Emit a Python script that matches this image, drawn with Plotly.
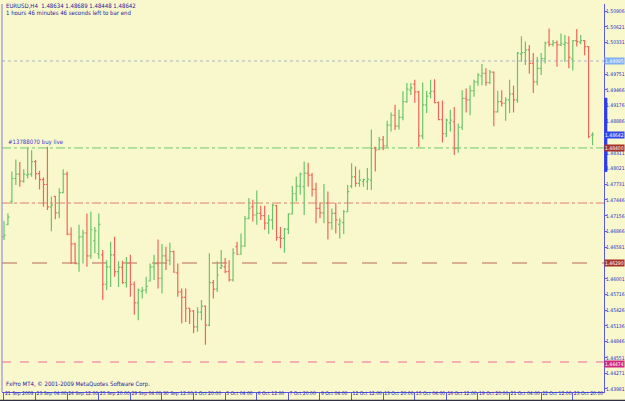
import plotly.graph_objects as go

opens = [1.4677,1.4700,1.4742,1.4784,1.4792,1.4779,1.4790,1.4792,1.4815,1.4793,
         1.4782,1.4773,1.4732,1.4751,1.4721,1.4758,1.4792,1.4682,1.4664,1.4628,
         1.4677,1.4684,1.4642,1.4670,1.4646,1.4644,1.4590,1.4622,1.4644,1.4613,
         1.4621,1.4593,1.4629,1.4590,1.4556,1.4577,1.4579,1.4596,1.4622,1.4628,
         1.4601,1.4642,1.4634,1.4650,1.4611,1.4576,1.4566,1.4546,1.4541,1.4512,
         1.4539,1.4550,1.4515,1.4593,1.4581,1.4620,1.4622,1.4613,1.4598,1.4659,
         1.4645,1.4660,1.4711,1.4732,1.4717,1.4720,1.4716,1.4702,1.4708,1.4734,
         1.4676,1.4674,1.4691,1.4719,1.4756,1.4770,1.4769,1.4794,1.4790,1.4764,
         1.4729,1.4721,1.4739,1.4703,1.4720,1.4700,1.4703,1.4723,1.4770,1.4787,
         1.4775,1.4778,1.4778,1.4781,1.4840,1.4838,1.4855,1.4844,1.4882,1.4900,
         1.4880,1.4896,1.4925,1.4946,1.4957,1.4943,1.4862,1.4919,1.4940,1.4944,
         1.4923,1.4892,1.4866,1.4886,1.4888,1.4839,1.4878,1.4931,1.4928,1.4945,
         1.4961,1.4972,1.4977,1.4960,1.4979,1.4906,1.4925,1.4922,1.4928,1.4939,
         1.4928,1.5012,1.5015,1.5020,1.4995,1.4961,1.4986,1.5004,1.5034,1.5030,
         1.5033,1.5029,1.5030,1.5032,1.5003,1.5037,1.5034,1.5037,1.5026,1.48634]
highs = [1.4706,1.4720,1.4797,1.4819,1.4814,1.4801,1.4841,1.4836,1.4818,1.4798,
         1.4786,1.4842,1.4751,1.4752,1.4766,1.4801,1.4797,1.4694,1.4666,1.4699,
         1.4690,1.4720,1.4723,1.4695,1.4720,1.4653,1.4634,1.4668,1.4677,1.4632,
         1.4633,1.4640,1.4644,1.4595,1.4582,1.4585,1.4604,1.4628,1.4644,1.4672,
         1.4664,1.4659,1.4666,1.4652,1.4628,1.4582,1.4582,1.4547,1.4543,1.4548,
         1.4561,1.4551,1.4647,1.4598,1.4632,1.4653,1.4638,1.4634,1.4656,1.4668,
         1.4683,1.4715,1.4748,1.4745,1.4762,1.4734,1.4734,1.4717,1.4737,1.4736,
         1.4695,1.4693,1.4720,1.4770,1.4787,1.4795,1.4815,1.4813,1.4794,1.4776,
         1.4740,1.4774,1.4760,1.4729,1.4739,1.4711,1.4726,1.4772,1.4812,1.4806,
         1.4800,1.4784,1.4803,1.4874,1.4842,1.4860,1.4862,1.4890,1.4905,1.4919,
         1.4910,1.4944,1.4959,1.4959,1.4965,1.4945,1.4960,1.4945,1.4965,1.4966,
         1.4925,1.4927,1.4894,1.4910,1.4915,1.4885,1.4946,1.4949,1.4955,1.4965,
         1.4977,1.4994,1.4986,1.4983,1.4980,1.4945,1.4946,1.4933,1.4965,1.4954,
         1.5016,1.5045,1.5035,1.5029,1.5014,1.5007,1.5014,1.5035,1.5059,1.5038,
         1.5037,1.5050,1.5047,1.5045,1.5038,1.5058,1.5047,1.5038,1.5027,1.48689]
lows = [1.4671,1.4698,1.4737,1.4772,1.4769,1.4776,1.4784,1.4787,1.4782,1.4764,
        1.4732,1.4726,1.4687,1.4709,1.4711,1.4757,1.4680,1.4627,1.4627,1.4613,
        1.4628,1.4622,1.4637,1.4647,1.4637,1.4561,1.4579,1.4585,1.4604,1.4585,
        1.4591,1.4584,1.4567,1.4534,1.4524,1.4564,1.4573,1.4595,1.4598,1.4582,
        1.4573,1.4616,1.4625,1.4611,1.4567,1.4518,1.4521,1.4517,1.4500,1.4503,
        1.4524,1.4479,1.4513,1.4564,1.4576,1.4618,1.4610,1.4595,1.4595,1.4644,
        1.4644,1.4659,1.4709,1.4705,1.4699,1.4708,1.4690,1.4682,1.4690,1.4670,
        1.4656,1.4648,1.4682,1.4718,1.4742,1.4754,1.4717,1.4769,1.4751,1.4702,
        1.4711,1.4702,1.4672,1.4690,1.4683,1.4674,1.4682,1.4722,1.4766,1.4769,
        1.4769,1.4769,1.4763,1.4763,1.4797,1.4836,1.4836,1.4841,1.4870,1.4873,
        1.4874,1.4891,1.4923,1.4937,1.4923,1.4842,1.4856,1.4904,1.4931,1.4922,
        1.4891,1.4850,1.4860,1.4870,1.4827,1.4831,1.4873,1.4905,1.4900,1.4934,
        1.4954,1.4955,1.4954,1.4957,1.4880,1.4905,1.4916,1.4890,1.4904,1.4905,
        1.4923,1.4998,1.4992,1.4976,1.4941,1.4955,1.4974,1.4995,1.5026,1.5026,
        1.4989,1.5027,1.4998,1.4986,1.4982,1.5026,1.5030,1.5010,1.4858,1.48448]
closes = [1.4680,1.4713,1.4784,1.4792,1.4779,1.4792,1.4792,1.4815,1.4793,1.4782,
          1.4773,1.4732,1.4735,1.4721,1.4758,1.4792,1.4682,1.4664,1.4628,1.4677,
          1.4684,1.4642,1.4690,1.4688,1.4700,1.4590,1.4622,1.4644,1.4613,1.4621,
          1.4593,1.4629,1.4590,1.4556,1.4579,1.4579,1.4586,1.4622,1.4628,1.4601,
          1.4642,1.4634,1.4650,1.4612,1.4576,1.4566,1.4546,1.4541,1.4512,1.4539,
          1.4550,1.4515,1.4593,1.4581,1.4607,1.4624,1.4613,1.4598,1.4647,1.4645,
          1.4660,1.4710,1.4729,1.4717,1.4720,1.4716,1.4702,1.4708,1.4735,1.4676,
          1.4674,1.4691,1.4719,1.4756,1.4770,1.4792,1.4794,1.4790,1.4764,1.4729,
          1.4721,1.4739,1.4703,1.4720,1.4708,1.4706,1.4723,1.4760,1.4787,1.4775,
          1.4781,1.4782,1.4783,1.4839,1.4836,1.4855,1.4844,1.4882,1.4900,1.4880,
          1.4896,1.4925,1.4948,1.4950,1.4943,1.4862,1.4919,1.4935,1.4944,1.4923,
          1.4892,1.4866,1.4891,1.4891,1.4839,1.4878,1.4931,1.4928,1.4945,1.4961,
          1.4974,1.4977,1.4960,1.4979,1.4906,1.4925,1.4922,1.4928,1.4939,1.4928,
          1.5014,1.5015,1.5020,1.4995,1.4961,1.4986,1.5004,1.5032,1.5030,1.5033,
          1.5029,1.5032,1.5033,1.5006,1.5037,1.5035,1.5037,1.5026,1.4861,1.48642]

date_labels = ["21 Sep 2009", "23 Sep 04:00", "24 Sep 12:00", "25 Sep 20:00", "29 Sep 04:00",
               "30 Sep 12:00", "1 Oct 20:00", "5 Oct 04:00", "6 Oct 12:00", "7 Oct 20:00",
               "9 Oct 04:00", "12 Oct 12:00", "13 Oct 20:00", "15 Oct 04:00", "16 Oct 12:00",
               "19 Oct 20:00", "21 Oct 04:00", "22 Oct 12:00", "23 Oct 20:00"]
bars_per_label = 8

# price-scale labels that remain visible (others are covered by level boxes)
price_ticks = ["1.50906", "1.50621", "1.50331", "1.49751", "1.49466", "1.49176",
               "1.48886", "1.48311", "1.48021", "1.47731", "1.47446", "1.47156",
               "1.46866", "1.46581", "1.46001", "1.45716", "1.45426", "1.45136",
               "1.44846", "1.44551", "1.44271", "1.43981"]

# horizontal levels
level_prices = [1.49995, 1.48400, 1.47390, 1.46290, 1.44474]
level_labels = ["1.49995", "1.48400", None, "1.46290", "1.44474"]
level_colors = ["#A9B4C8", "#6CCB6C", "#E4806C", "#B86A5A", "#F06A98"]
level_dashes = ["dot", "dashdot", "dashdot", "longdash", "dash"]
level_label_bg = ["#7FAEF2", "#A83228", None, "#A83228", "#D0287C"]
level_label_shift = [0, 0, 0, 0, -2]
current_price = 1.48642

bg = "#F9F7CC"
navy = "#23239A"
axis_blue = "#5A5AE6"
small_font = "Liberation Sans Narrow, DejaVu Sans Condensed, Liberation Sans, Arial"
fs = 5

x = list(range(len(opens)))
fig = go.Figure()
fig.add_trace(go.Ohlc(
    x=x, open=opens, high=highs, low=lows, close=closes,
    increasing=dict(line=dict(color="#6BC46B", width=1.2)),
    decreasing=dict(line=dict(color="#F0675A", width=1.2)),
    tickwidth=0.4, hoverinfo="skip", showlegend=False))

shapes = []
for p, col, d in zip(level_prices, level_colors, level_dashes):
    shapes.append(dict(type="line", xref="paper", x0=0, x1=1, yref="y", y0=p, y1=p,
                       line=dict(color=col, width=1, dash=d), layer="below"))
shapes.append(dict(type="line", xref="paper", x0=0, x1=0, yref="paper", y0=0, y1=1,
                   line=dict(color="#8080D8", width=1)))
shapes.append(dict(type="line", xref="paper", x0=1.003, x1=1.003, yref="y", y0=1.4932, y1=1.4796,
                   line=dict(color="#2E3CF0", width=3)))
shapes.append(dict(type="line", xref="paper", x0=-0.01, x1=1.05, yref="paper", y0=-0.0225, y1=-0.0225,
                   line=dict(color="#303040", width=2)))

annotations = []
for p, lab, bgc, sh in zip(level_prices, level_labels, level_label_bg, level_label_shift):
    if lab is None:
        continue
    annotations.append(dict(xref="paper", x=1, xanchor="left", xshift=0, yref="y", y=p,
                            yanchor="middle", yshift=sh, text=lab, showarrow=False,
                            font=dict(size=fs, color="white", family=small_font),
                            bgcolor=bgc, borderpad=0))
annotations.append(dict(xref="paper", x=1, xanchor="left", xshift=0, yref="y", y=current_price,
                        yanchor="middle", text=f"{current_price:.5f}", showarrow=False,
                        font=dict(size=fs, color="white", family=small_font),
                        bgcolor="#2E46E8", borderpad=0))
annotations.append(dict(xref="paper", x=0.004, xanchor="left", yref="paper", y=1, yanchor="top", yshift=4,
                        text=f"EURUSD,H4  {opens[-1]:.5f} {highs[-1]:.5f} {lows[-1]:.5f} {closes[-1]:.5f}",
                        showarrow=False, font=dict(size=6, color=navy, family=small_font)))
annotations.append(dict(xref="paper", x=0.004, xanchor="left", yref="paper", y=1, yanchor="top", yshift=-3,
                        text="1 hours 46 minutes 46 seconds left to bar end",
                        showarrow=False, font=dict(size=6, color=navy, family=small_font)))
annotations.append(dict(xref="paper", x=0.006, xanchor="left", yref="y", y=level_prices[1], yanchor="bottom",
                        text="#13788070 buy live", showarrow=False,
                        font=dict(size=6, color="#3A3AD0", family=small_font)))
annotations.append(dict(xref="paper", x=0.004, xanchor="left", yref="paper", y=0, yanchor="bottom", yshift=2,
                        text="FxPro MT4, © 2001-2009 MetaQuotes Software Corp.", showarrow=False,
                        font=dict(size=6, color=navy, family=small_font)))

fig.update_layout(
    width=625, height=401, margin=dict(l=2, r=21, t=4, b=9),
    paper_bgcolor=bg, plot_bgcolor=bg, showlegend=False,
    shapes=shapes, annotations=annotations,
    xaxis=dict(range=[-0.5, 151.9], rangeslider=dict(visible=False), showgrid=False, zeroline=False,
               automargin=False, tickangle=0,
               tickvals=[i * bars_per_label for i in range(len(date_labels))], ticktext=date_labels,
               ticks="outside", ticklen=7, tickcolor=axis_blue, tickwidth=1,
               ticklabelposition="outside right", ticklabelstandoff=-4,
               tickfont=dict(size=fs, color=navy, family=small_font),
               showline=True, linecolor=axis_blue, linewidth=1),
    yaxis=dict(range=[1.43924, 1.51040], side="right", showgrid=False, zeroline=False,
               automargin=False,
               tickvals=[float(t) for t in price_ticks], ticktext=price_ticks,
               ticks="outside", ticklen=2, tickcolor=axis_blue, ticklabelstandoff=-2,
               tickfont=dict(size=fs, color="#2A2AC8", family=small_font),
               showline=True, linecolor=axis_blue, linewidth=1),
)

fig.write_html("out.html")
